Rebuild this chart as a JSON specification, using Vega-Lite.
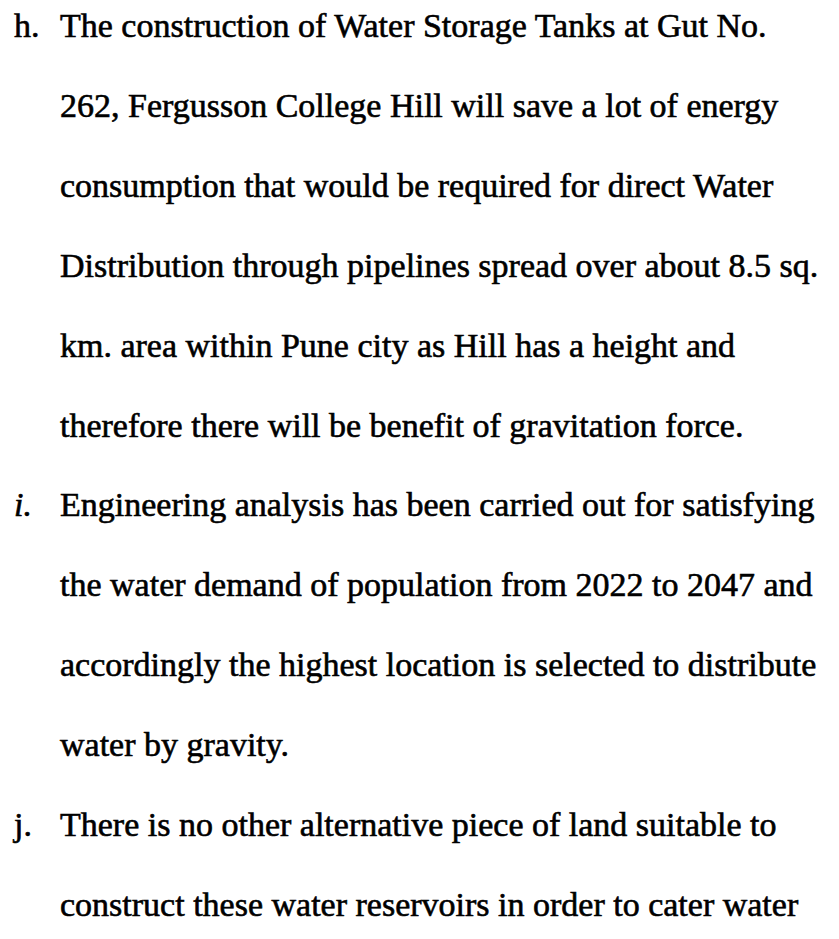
{
  "$schema": "https://vega.github.io/schema/vega-lite/v6.json",
  "width": 839,
  "height": 939,
  "autosize": "none",
  "padding": 0,
  "background": "white",
  "config": {"view": {"stroke": null}},
  "data": {
    "values": [
      {"row": 0, "col": 0, "text": "h."},
      {"row": 0, "col": 1, "text": "The construction of Water Storage Tanks at Gut No."},
      {"row": 1, "col": 1, "text": "262, Fergusson College Hill will save a lot of energy"},
      {"row": 2, "col": 1, "text": "consumption that would be required for direct Water"},
      {"row": 3, "col": 1, "text": "Distribution through pipelines spread over about 8.5 sq."},
      {"row": 4, "col": 1, "text": "km. area within Pune city as Hill has a height and"},
      {"row": 5, "col": 1, "text": "therefore there will be benefit of gravitation force."},
      {"row": 6, "col": 0, "text": "i."},
      {"row": 6, "col": 1, "text": "Engineering analysis has been carried out for satisfying"},
      {"row": 7, "col": 1, "text": "the water demand of population from 2022 to 2047 and"},
      {"row": 8, "col": 1, "text": "accordingly the highest location is selected to distribute"},
      {"row": 9, "col": 1, "text": "water by gravity."},
      {"row": 10, "col": 0, "text": "j."},
      {"row": 10, "col": 1, "text": "There is no other alternative piece of land suitable to"},
      {"row": 11, "col": 1, "text": "construct these water reservoirs in order to cater water"}
    ]
  },
  "encoding": {
    "x": {"field": "col", "type": "quantitative", "axis": null, "scale": {"domain": [0, 1], "range": [14, 60]}},
    "y": {"field": "row", "type": "quantitative", "axis": null, "scale": {"domain": [0, 11], "range": [37, 916]}},
    "text": {"field": "text"}
  },
  "layer": [
    {
      "transform": [{"filter": "datum.text !== 'i.'"}],
      "mark": {"type": "text", "align": "left", "baseline": "alphabetic", "font": "Liberation Serif", "fontSize": 34, "color": "#000000", "stroke": "#000000", "strokeWidth": 0.6}
    },
    {
      "transform": [{"filter": "datum.text === 'i.'"}],
      "mark": {"type": "text", "align": "left", "baseline": "alphabetic", "font": "Liberation Serif", "fontSize": 34, "fontStyle": "italic", "color": "#000000", "stroke": "#000000", "strokeWidth": 0.6}
    }
  ]
}
